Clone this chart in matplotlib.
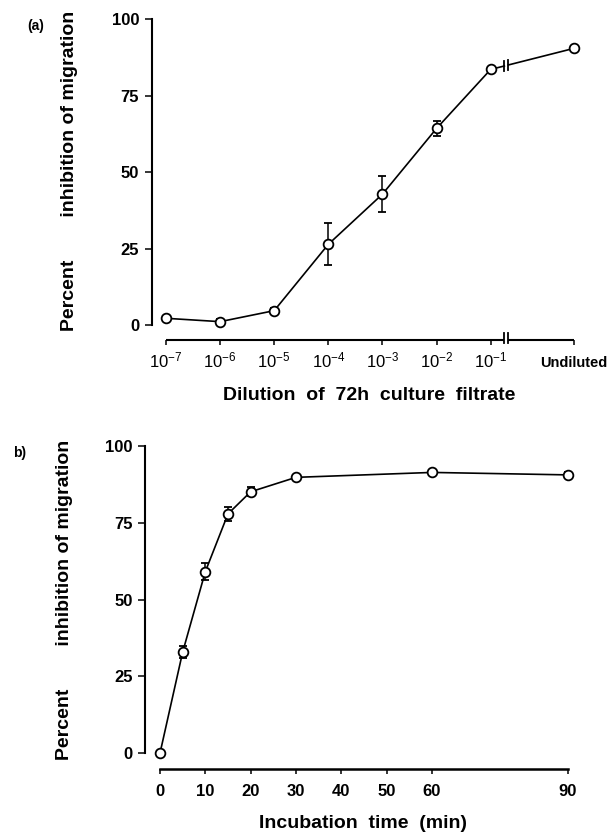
import numpy as np
import matplotlib
matplotlib.use("Agg")
import matplotlib.pyplot as plt

plt.rcParams["font.family"] = ["Liberation Sans", "DejaVu Sans"]
plt.rcParams["mathtext.fontset"] = "custom"
plt.rcParams["mathtext.rm"] = "Liberation Sans"
plt.rcParams["mathtext.it"] = "Liberation Sans"
plt.rcParams["mathtext.bf"] = "Liberation Sans:bold"

# (a) dilution series of 72h culture filtrate
dilution_exp = [-7, -6, -5, -4, -3, -2, -1]
dilution_labels = [r"$10^{-7}$", r"$10^{-6}$", r"$10^{-5}$", r"$10^{-4}$",
                   r"$10^{-3}$", r"$10^{-2}$", r"$10^{-1}$", "Undiluted"]
a_pct = [2.2, 1.1, 4.7, 26.4, 42.8, 64.3, 83.6, 90.5]
a_err = [0.8, 0.8, 1.0, 6.9, 5.8, 2.4, 0.8, 0.8]

# (b) incubation time course
b_time = [0, 5, 10, 15, 20, 30, 60, 90]
b_pct = [0.0, 32.9, 59.1, 77.9, 85.1, 89.8, 91.4, 90.6]
b_err = [0.0, 1.9, 2.8, 2.2, 1.4, 0.8, 0.8, 0.9]
b_ticks = [0, 10, 20, 30, 40, 50, 60, 90]

y_ticks = [0, 25, 50, 75, 100]
ylabel = "Percent" + " " * 8 + "inhibition of migration"

UNDIL_GAP = 1.54      # spacing of "Undiluted" after 10^-1, in decades
BRK = 6.29            # axis break position
BRK_D = 0.037

W, H = 609, 833
fig = plt.figure(figsize=(W / 100, H / 100), dpi=100)


def px_axes(left, right, top, bottom):
    return fig.add_axes([left / W, 1 - bottom / H, (right - left) / W, (bottom - top) / H])


def style(ax):
    for s in ["top", "right", "bottom"]:
        ax.spines[s].set_visible(False)
    ax.spines["left"].set_linewidth(1.5)
    ax.spines["left"].set_bounds(0, 100)
    ax.tick_params(axis="y", direction="out", length=5, width=1.1, pad=4, labelsize=12)
    ax.tick_params(axis="x", direction="out", length=3.6, width=1.1)
    ax.set_yticks(y_ticks)
    for t in ax.get_yticklabels():
        t.set_fontweight("bold")
    ax.set_facecolor("none")


line_kw = dict(color="black", lw=1.2, marker="o", ms=7, mfc="white", mec="black",
               mew=1.3, ecolor="black", elinewidth=1.1, capsize=3, capthick=1.1,
               clip_on=False, zorder=3)

# ---- panel (a)
ax = px_axes(151.7, 574, 19.3, 340)
style(ax)
xa = [e + 7 for e in dilution_exp] + [6 + UNDIL_GAP]
ax.set_xlim(-0.264, xa[-1])
ax.set_ylim(-4.9, 100)

# data line split at the break
y_lo = np.interp(BRK - BRK_D, xa[-2:], a_pct[-2:])
y_hi = np.interp(BRK + BRK_D, xa[-2:], a_pct[-2:])
ax.plot(xa[:-1] + [BRK - BRK_D], a_pct[:-1] + [y_lo], color="black", lw=1.2, zorder=2)
ax.plot([BRK + BRK_D, xa[-1]], [y_hi, a_pct[-1]], color="black", lw=1.2, zorder=2)
for bx, by in [(BRK - BRK_D, y_lo), (BRK + BRK_D, y_hi)]:
    ax.plot([bx, bx], [by - 1.5, by + 1.5], color="black", lw=1.3, zorder=2)
eb = dict(line_kw)
eb["ls"] = "none"
ax.errorbar(xa, a_pct, yerr=a_err, **eb)

# broken bottom axis
xt = ax.get_xaxis_transform()
ax.plot([0, BRK - BRK_D], [0, 0], transform=xt, color="black", lw=1.5, clip_on=False,
        solid_capstyle="butt")
ax.plot([BRK + BRK_D, xa[-1]], [0, 0], transform=xt, color="black", lw=1.5, clip_on=False,
        solid_capstyle="butt")
for bx in [BRK - BRK_D, BRK + BRK_D]:
    ax.plot([bx, bx], [-0.009, 0.022], transform=xt, color="black", lw=1.3, clip_on=False)

ax.set_xticks(xa)
ax.set_xticklabels(dilution_labels)
ax.tick_params(axis="x", pad=16, labelsize=12)
for t in ax.get_xticklabels():
    t.set_va("baseline")
ax.get_xticklabels()[-1].set_fontweight("bold")
ax.get_xticklabels()[-1].set_fontsize(10.5)

ax.set_xlabel("Dilution  of  72h  culture  filtrate", fontsize=14, fontweight="bold", va="center")
ax.xaxis.set_label_coords((369 - 151.7) / 422.3, (340 - 395) / 320.7)
ax.set_ylabel(ylabel, fontsize=14, fontweight="bold", va="center")
ax.yaxis.set_label_coords((70 - 151.7) / 422.3, (340 - 171) / 320.7)
fig.text(36 / W, 1 - 26 / H, "(a)", fontsize=10, fontweight="bold", ha="center", va="center")

# ---- panel (b)
bx_ = px_axes(145, 568, 446, 769.3)
style(bx_)
bx_.set_xlim(-3.3, 90)
bx_.set_ylim(-5.2, 100)
bx_.spines["bottom"].set_visible(True)
bx_.spines["bottom"].set_linewidth(1.8)
bx_.spines["bottom"].set_bounds(0, 90)
bx_.errorbar(b_time, b_pct, yerr=b_err, **line_kw)
bx_.set_xticks(b_ticks)
bx_.set_xticklabels([str(t) for t in b_ticks])
bx_.tick_params(axis="x", pad=7, labelsize=12)
for t in bx_.get_xticklabels():
    t.set_fontweight("bold")
bx_.set_xlabel("Incubation  time  (min)", fontsize=14, fontweight="bold", va="center")
bx_.xaxis.set_label_coords((363 - 145) / 423, (769.3 - 823.3) / 323.3)
bx_.set_ylabel(ylabel, fontsize=14, fontweight="bold", va="center")
bx_.yaxis.set_label_coords((65 - 145) / 423, (769.3 - 600) / 323.3)
fig.text(20 / W, 1 - 453 / H, "b)", fontsize=10, fontweight="bold", ha="center", va="center")

fig.savefig("out.png", dpi=100)
